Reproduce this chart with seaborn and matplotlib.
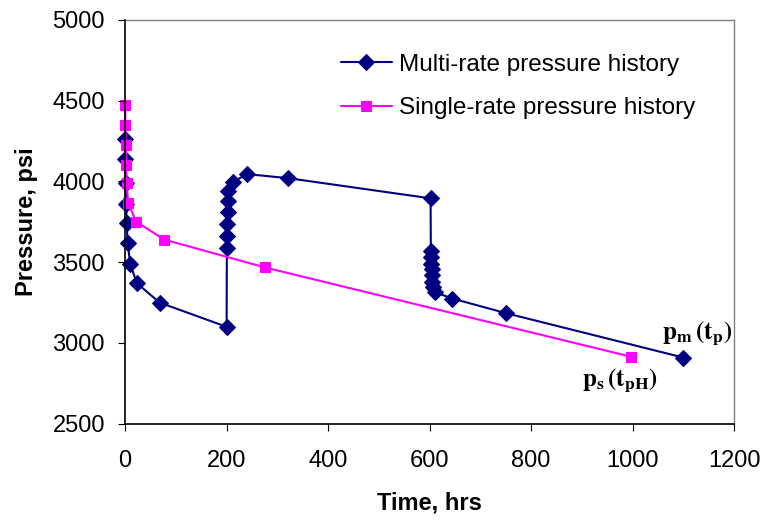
import numpy as np
import pandas as pd
import matplotlib
matplotlib.use('Agg')
import matplotlib.pyplot as plt
import seaborn as sns

sns.set_style('white')
plt.rcParams['font.family'] = ['Liberation Sans', 'DejaVu Sans']
plt.rcParams['mathtext.fontset'] = 'stix'
plt.rcParams['text.color'] = 'black'
plt.rcParams['axes.labelcolor'] = 'black'
plt.rcParams['xtick.color'] = 'black'
plt.rcParams['ytick.color'] = 'black'

# multi-rate history (time in hrs, pressure in psi)
t_multi = [0.1, 0.5, 1, 2, 3, 5, 10, 23, 68, 200,
           200.5, 201, 201.5, 202, 202.5, 203, 212, 240, 321, 602,
           602.5, 603, 603.5, 604, 604.5, 605, 607, 610, 645, 750, 1100]
p_multi = [4260, 4140, 3990, 3860, 3740, 3620, 3490, 3370, 3250, 3100,
           3590, 3660, 3735, 3810, 3880, 3940, 3995, 4045, 4020, 3895,
           3570, 3530, 3490, 3455, 3420, 3375, 3345, 3315, 3275, 3185, 2910]

# single-rate history
t_single = [0.1, 0.5, 1, 2, 3, 6, 22, 77, 275, 997]
p_single = [4470, 4350, 4225, 4100, 3990, 3865, 3750, 3640, 3468, 2915]

df_multi = pd.DataFrame({'t': t_multi, 'p': p_multi})
df_single = pd.DataFrame({'t': t_single, 'p': p_single})

fig = plt.figure(figsize=(7.63, 5.2), dpi=100)
ax = fig.add_axes([0.164, 0.185, 0.798, 0.777])

sns.lineplot(data=df_multi, x='t', y='p', ax=ax, color='#000080', marker='D',
             markersize=8, markeredgecolor='#000080', linewidth=1.5,
             sort=False, estimator=None, clip_on=False,
             label='Multi-rate pressure history')
sns.lineplot(data=df_single, x='t', y='p', ax=ax, color='#FF00FF', marker='s',
             markersize=7, markeredgecolor='#FF00FF', linewidth=1.5,
             sort=False, estimator=None, clip_on=False,
             label='Single-rate pressure history')

ax.set_xlim(0, 1200)
ax.set_ylim(2500, 5000)
ax.set_xticks(np.arange(0, 1201, 200))
ax.set_yticks(np.arange(2500, 5001, 500))
ax.tick_params(axis='both', direction='out', length=5, labelsize=17,
               left=True, bottom=True)
ax.tick_params(axis='x', pad=14)
ax.tick_params(axis='y', pad=9.5)
ax.set_xlabel('Time, hrs', fontsize=17, fontweight='bold')
ax.set_ylabel('Pressure, psi', fontsize=17, fontweight='bold')
ax.xaxis.set_label_coords(0.5, -0.168)
ax.yaxis.set_label_coords(-0.143, 0.5)

for side in ['left', 'bottom']:
    ax.spines[side].set_color('black')
    ax.spines[side].set_linewidth(1.2)
for side in ['top', 'right']:
    ax.spines[side].set_color('#808080')
    ax.spines[side].set_linewidth(1.0)
ax.set_axisbelow(False)

ax.legend(loc='center left', bbox_to_anchor=(0.318, 0.835), frameon=False,
          fontsize=17.5, handlelength=2.1, handletextpad=0.3, labelspacing=0.88)

ax.text(1058, 3058, r'$\mathbf{p_m\,(t_p)}$', fontsize=18, ha='left', va='center')
ax.text(901, 2767, r'$\mathbf{p_s\,(t_{pH})}$', fontsize=18, ha='left', va='center')

fig.savefig('out.png', dpi=100)
